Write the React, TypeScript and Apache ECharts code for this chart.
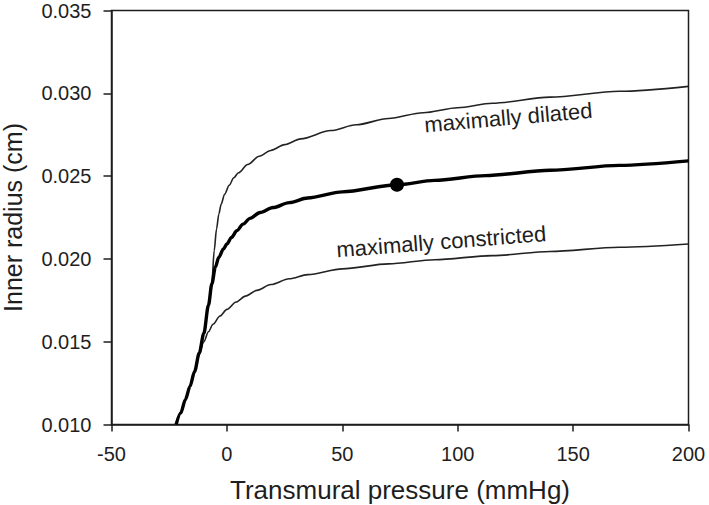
import React, { useEffect, useRef } from "react";
import * as echarts from "echarts";

// Transmural pressure (mmHg) and inner radius (cm) for each curve
const basePressure = [-22, -20, -18, -16, -14, -12, -10, -8, -6.5, -5, -3.5, -1.5, 0, 2, 4.3, 7, 10, 14.4, 20, 27, 35, 50, 73.7, 90, 112, 140, 170, 200];
const baseRadius = [0.0100, 0.0107, 0.0115, 0.0123, 0.0132, 0.0143, 0.0155, 0.0172, 0.0185, 0.0195, 0.0201, 0.0206, 0.0209, 0.0213, 0.0217, 0.0221, 0.02245, 0.0228, 0.0231, 0.0234, 0.02368, 0.02405, 0.02448, 0.02474, 0.02503, 0.02535, 0.02565, 0.02592];

const dilatedPressure = [-22, -20, -18, -16, -14, -12, -10, -8, -6.5, -5.5, -4.5, -3.5, -2.5, -1, 1, 3, 5, 9, 14, 19, 25, 32, 45, 56, 70, 85, 100, 115, 140, 170, 200];
const dilatedRadius = [0.0100, 0.0107, 0.0115, 0.0123, 0.0132, 0.0143, 0.0155, 0.0172, 0.0186, 0.0205, 0.0218, 0.0227, 0.0233, 0.0239, 0.02445, 0.0249, 0.0252, 0.0257, 0.0262, 0.02655, 0.0269, 0.02725, 0.02775, 0.0281, 0.02848, 0.02883, 0.02913, 0.0294, 0.02977, 0.03012, 0.03042];

const constrictedPressure = [-22, -20, -18, -16, -14, -12, -10, -8, -6, -3, 0, 4, 8, 13, 19, 27, 35, 50, 70, 90, 115, 140, 170, 200];
const constrictedRadius = [0.0100, 0.0107, 0.0115, 0.0123, 0.0132, 0.0143, 0.0150, 0.0156, 0.01605, 0.01655, 0.01695, 0.0174, 0.01775, 0.0181, 0.01845, 0.0188, 0.01905, 0.0194, 0.0197, 0.01995, 0.0202, 0.02045, 0.0207, 0.0209];

const controlPressure = [73.7];
const controlRadius = [0.02448];

const annotationTexts = ["maximally dilated", "maximally constricted"];
const annotationPressure = [121.9, 92.9];
const annotationRadius = [0.02853, 0.02104];
const annotationAngle = [5, 4.5];

const FONT = "'Liberation Sans', Arial, Helvetica, sans-serif";
const INK = "#1e1e1e";

export default function App() {
  const ref = useRef<HTMLDivElement>(null);
  useEffect(() => {
    const chart = echarts.init(ref.current!, null, { renderer: "svg" });
    const zip = (p: number[], r: number[]) => p.map((v, i) => [v, r[i]]);
    const axisLine = { show: true, onZero: false, lineStyle: { color: INK, width: 1.5 } };
    chart.setOption({
      animation: false,
      backgroundColor: "#fff",
      grid: {
        left: 111.5,
        right: 20.5,
        top: 10.5,
        bottom: 80.5,
        show: true,
        borderColor: INK,
        borderWidth: 1.5,
        backgroundColor: "transparent",
        containLabel: false,
        outerBoundsMode: "none",
      },
      xAxis: {
        type: "value",
        min: -50,
        max: 200,
        interval: 50,
        axisLine,
        axisTick: { show: true, inside: false, length: 7, lineStyle: { color: INK, width: 1.5 } },
        axisLabel: { fontSize: 20, color: INK, fontFamily: FONT, margin: 19 },
        splitLine: { show: false },
        name: "Transmural pressure (mmHg)",
        nameLocation: "middle",
        nameGap: 52,
        nameTextStyle: { fontSize: 26, color: INK, fontFamily: FONT },
      },
      yAxis: {
        type: "value",
        min: 0.01,
        max: 0.035,
        interval: 0.005,
        axisLine,
        axisTick: { show: true, inside: false, length: 8, lineStyle: { color: INK, width: 1.5 } },
        axisLabel: {
          fontSize: 20,
          color: INK,
          fontFamily: FONT,
          margin: 20,
          formatter: (v: number) => v.toFixed(3),
        },
        splitLine: { show: false },
        name: "Inner radius (cm)",
        nameLocation: "middle",
        nameGap: 86,
        nameTextStyle: { fontSize: 25, color: INK, fontFamily: FONT },
      },
      series: [
        {
          type: "line",
          data: zip(dilatedPressure, dilatedRadius),
          showSymbol: false,
          smooth: 0.3,
          smoothMonotone: "x",
          lineStyle: { color: "#222", width: 1.6 },
          z: 2,
        },
        {
          type: "line",
          data: zip(constrictedPressure, constrictedRadius),
          showSymbol: false,
          smooth: 0.3,
          smoothMonotone: "x",
          lineStyle: { color: "#222", width: 1.6 },
          z: 2,
        },
        {
          type: "line",
          data: zip(basePressure, baseRadius),
          showSymbol: false,
          smooth: 0.3,
          smoothMonotone: "x",
          lineStyle: { color: "#000", width: 3.4 },
          z: 3,
        },
        {
          type: "scatter",
          data: zip(controlPressure, controlRadius),
          symbol: "circle",
          symbolSize: 14,
          itemStyle: { color: "#000", opacity: 1 },
          z: 4,
        },
      ],
    });
    const graphics = annotationTexts.map((t, i) => {
      const [px, py] = chart.convertToPixel({ gridIndex: 0 }, [annotationPressure[i], annotationRadius[i]]) as number[];
      return {
        type: "text",
        x: px,
        y: py,
        rotation: (annotationAngle[i] * Math.PI) / 180,
        z: 10,
        style: {
          text: t,
          fill: INK,
          font: `22px ${FONT}`,
          textAlign: "center",
          textVerticalAlign: "middle",
          verticalAlign: "middle",
        },
      };
    });
    chart.setOption({ graphic: graphics });
    return () => chart.dispose();
  }, []);
  return (
    <div
      ref={ref}
      style={{ position: "absolute", left: 0, top: 0, width: 709, height: 505, background: "#fff" }}
    />
  );
}
